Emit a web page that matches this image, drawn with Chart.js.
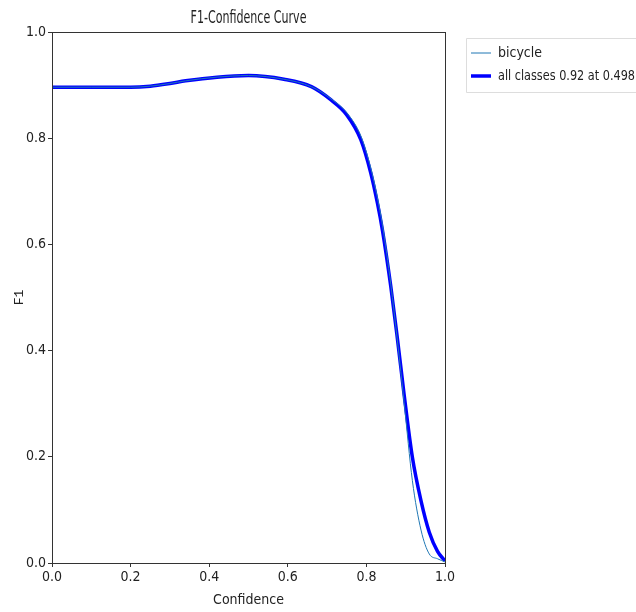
<!DOCTYPE html>
<html>
<head>
<meta charset="utf-8">
<script src="https://cdn.jsdelivr.net/npm/chart.js@4"></script>
<style>
  html, body { margin: 0; padding: 0; background: #fff; }
  #wrap { width: 636px; height: 612px; }
</style>
</head>
<body>
<div id="wrap"><canvas id="f1Chart" width="636" height="612"></canvas></div>
<script>
    const FONT = '"DejaVu Sans Condensed", "DejaVu Sans", sans-serif';

    // data
    const confidence = [0.0, 0.1, 0.2, 0.25, 0.3, 0.34, 0.42, 0.5, 0.59, 0.66, 0.71, 0.75, 0.786, 0.811, 0.828, 0.841, 0.862, 0.879, 0.896, 0.917, 0.939, 0.96, 0.981, 1.0];
    const bicycleF1  = [0.896, 0.896, 0.896, 0.898, 0.903, 0.908, 0.915, 0.918, 0.911, 0.897, 0.874, 0.848, 0.804, 0.744, 0.688, 0.636, 0.525, 0.418, 0.302, 0.155, 0.062, 0.017, 0.008, 0.002];
    const allF1      = [0.896, 0.896, 0.896, 0.898, 0.903, 0.908, 0.915, 0.918, 0.911, 0.897, 0.872, 0.844, 0.797, 0.735, 0.678, 0.626, 0.521, 0.422, 0.317, 0.199, 0.117, 0.058, 0.022, 0.004];
    const seriesNames = ['bicycle', 'all classes 0.92 at 0.498'];
    const xTicks = ['0.0', '0.2', '0.4', '0.6', '0.8', '1.0'];
    const yTicks = ['0.0', '0.2', '0.4', '0.6', '0.8', '1.0'];

    const toPoints = (xs, ys) => xs.map((x, i) => ({ x, y: ys[i] }));

    // frame round the plot area, title and outside legend (matplotlib style)
    const framePlugin = {
        id: 'frame',
        afterDraw(chart) {
            const { ctx, chartArea: a } = chart;
            ctx.save();
            ctx.strokeStyle = '#333';
            ctx.lineWidth = 1;
            ctx.strokeRect(a.left + 0.5, a.top + 0.5, a.right - a.left, a.bottom - a.top);

            ctx.fillStyle = '#222';
            ctx.font = '17px ' + FONT;
            ctx.textAlign = 'center';
            ctx.textBaseline = 'alphabetic';
            ctx.fillText('F1-Confidence Curve', (a.left + a.right) / 2, 23, 116);

            // legend box
            const lx = 466, ly = 38;
            ctx.strokeStyle = '#ddd';
            ctx.fillStyle = '#fff';
            ctx.beginPath();
            ctx.rect(lx + 0.5, ly + 0.5, 200, 54);
            ctx.fill();
            ctx.stroke();
            ctx.font = '14px ' + FONT;
            ctx.textAlign = 'left';
            ctx.textBaseline = 'middle';
            chart.data.datasets.forEach((ds, i) => {
                const y = ly + 15 + i * 23;
                ctx.strokeStyle = ds.borderColor;
                ctx.lineWidth = ds.borderWidth;
                ctx.beginPath();
                ctx.moveTo(lx + 5, y);
                ctx.lineTo(lx + 25, y);
                ctx.stroke();
                ctx.fillStyle = '#222';
                ctx.fillText(ds.label, lx + 32, y, 137);
            });
            ctx.restore();
        }
    };

    const ctx = document.getElementById('f1Chart').getContext('2d');
    new Chart(ctx, {
        type: 'line',
        data: {
            datasets: [{
                label: seriesNames[0],
                data: toPoints(confidence, bicycleF1),
                borderColor: '#1f77b4',
                borderWidth: 1,
                pointRadius: 0,
                cubicInterpolationMode: 'monotone'
            }, {
                label: seriesNames[1],
                data: toPoints(confidence, allF1),
                borderColor: '#0000ff',
                borderWidth: 3.5,
                pointRadius: 0,
                cubicInterpolationMode: 'monotone'
            }]
        },
        options: {
            responsive: false,
            animation: false,
            layout: { padding: { top: 32, right: 191, left: 0, bottom: 0 } },
            plugins: {
                legend: { display: false },
                title: { display: false },
                tooltip: { enabled: false }
            },
            scales: {
                x: {
                    type: 'linear',
                    min: 0,
                    max: 1,
                    afterFit: (scale) => { scale.height = 49; },
                    afterBuildTicks: (scale) => {
                        scale.ticks = xTicks.map(v => ({ value: parseFloat(v) }));
                    },
                    ticks: {
                        color: '#222',
                        font: { family: FONT, size: 14 },
                        padding: 2,
                        maxRotation: 0,
                        callback: (v, i) => xTicks[i]
                    },
                    grid: { drawOnChartArea: false, drawTicks: true, tickLength: 4, color: '#333' },
                    border: { display: false },
                    title: {
                        display: true,
                        text: 'Confidence',
                        color: '#222',
                        font: { family: FONT, size: 14 },
                        padding: { top: 0, bottom: 3 }
                    }
                },
                y: {
                    type: 'linear',
                    min: 0,
                    max: 1,
                    afterFit: (scale) => { scale.width = 52; },
                    afterBuildTicks: (scale) => {
                        scale.ticks = yTicks.map(v => ({ value: parseFloat(v) }));
                    },
                    ticks: {
                        color: '#222',
                        font: { family: FONT, size: 14 },
                        padding: 2,
                        callback: (v, i) => yTicks[i]
                    },
                    grid: { drawOnChartArea: false, drawTicks: true, tickLength: 4, color: '#333' },
                    border: { display: false },
                    title: {
                        display: true,
                        text: 'F1',
                        color: '#222',
                        font: { family: 'Liberation Mono, monospace', size: 13 },
                        padding: { top: 12, bottom: 0 }
                    }
                }
            }
        },
        plugins: [framePlugin]
    });
</script>
</body>
</html>
